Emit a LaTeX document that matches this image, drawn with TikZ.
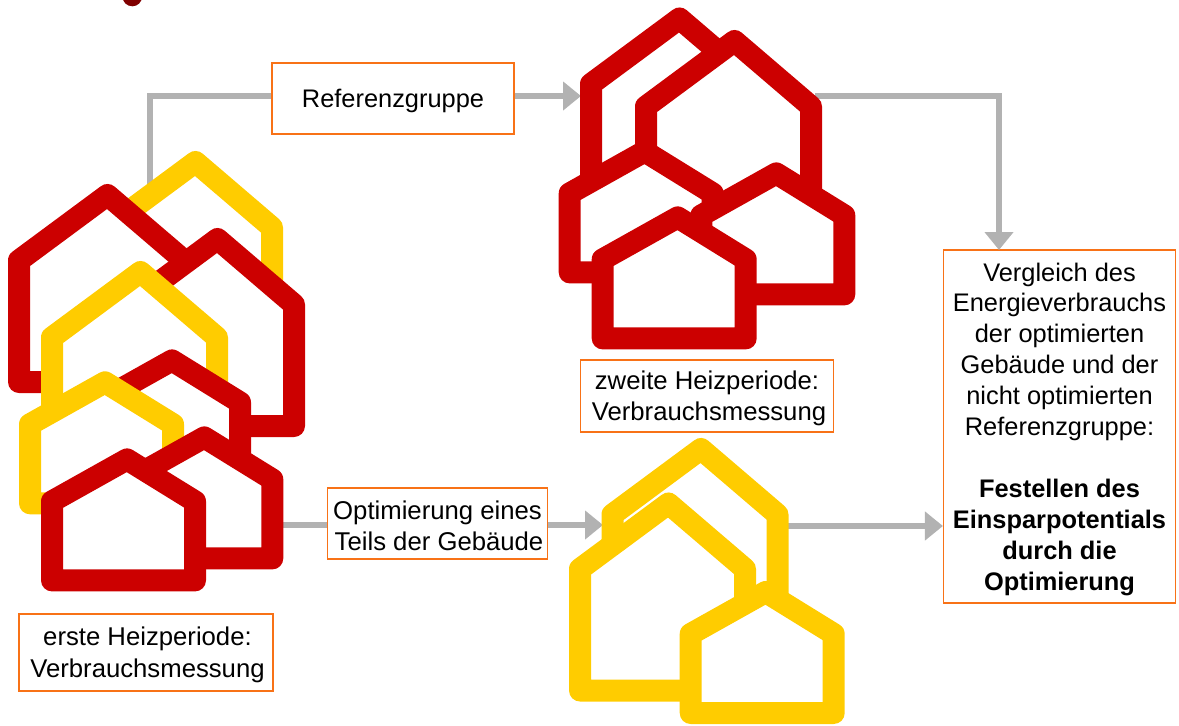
\documentclass[tikz,border=0pt]{standalone}
\usepackage{fontspec}
\setmainfont{Liberation Sans}
\usetikzlibrary{arrows.meta}
\definecolor{hred}{HTML}{CC0000}
\definecolor{hyel}{HTML}{FFCC00}
\definecolor{cgray}{HTML}{B2B2B2}
\definecolor{bord}{HTML}{F87217}
\definecolor{dotred}{HTML}{800000}
\newcommand\lift{\rule{0pt}{23.5pt}}
\tikzset{
  hbase/.style={line width=22pt,line join=round,fill=white},
  txt/.style={draw=bord,line width=1.1pt,fill=white,align=center,inner sep=0pt,font=\fontsize{25.4}{30.9}\selectfont},
  txtb/.style={txt,font=\fontsize{25.7}{31.5}\selectfont},
  conn/.style={draw=cgray,line width=6.5pt},
  head/.style={conn,-{Triangle[length=18pt,width=28pt,fill=cgray]}}
}
\newcommand\bighouse[3]{\path[hbase,draw=#3] (#1-88.5,#2+65.5) -- (#1,#2) -- (#1+76.5,#2+65.5) -- (#1+76.5,#2+187) -- (#1-88.5,#2+187) -- cycle;}
\newcommand\smallhouse[3]{\path[hbase,draw=#3] (#1-75,#2+42) -- (#1,#2) -- (#1+68,#2+42) -- (#1+68,#2+121) -- (#1-75,#2+121) -- cycle;}
\begin{document}
\begin{tikzpicture}[x=1pt,y=-1pt]
\useasboundingbox (0,0) rectangle (1179,726);
\clip (0,0) rectangle (1179,726);
\fill[dotred] (132.3,-3.5) circle (9.8);
% anchors of the connectors
\coordinate (startA) at (150,185);
\coordinate (tipA) at (581,96);
\coordinate (startB) at (815,96);
\coordinate (tipB) at (999,250);
\coordinate (startC) at (275,525);
\coordinate (tipC) at (603,525);
\coordinate (startD) at (785,526);
% text boxes
\node[txt,minimum width=242pt,minimum height=71pt] (ref) at (393,98.5) {\lift Referenzgruppe};
\node[txtb,minimum width=254pt,minimum height=77pt] (first) at (146,652.5) {\lift\hspace{3pt}erste Heizperiode:\\\hspace{3pt}Verbrauchsmessung};
\node[txtb,minimum width=253pt,minimum height=72pt] (second) at (707,396) {\lift zweite Heizperiode:\\\hspace{4pt}Verbrauchsmessung};
\node[txtb,minimum width=220pt,minimum height=71pt] (opt) at (437.5,523.5) {\lift Optimierung eines\hspace{6pt}\\\hspace{3pt}Teils der Gebäude};
\node[txt,minimum width=232pt,minimum height=353pt] (res) at (1059.5,426.5) {\lift Vergleich des\\Energieverbrauchs\\der optimierten\\Gebäude und der\\nicht optimierten\\Referenzgruppe:\\[30.9pt]\textbf{Festellen des}\\\textbf{Einsparpotentials}\\\textbf{durch die}\\\textbf{Optimierung}};
% connectors
\draw[conn] (startA) |- (ref.west |- tipA);
\draw[head] (ref.east |- tipA) -- (tipA);
\draw[head] (startB) -| (tipB);
\draw[conn] (startC) -- (opt.west |- startC);
\draw[head] (opt.east |- tipC) -- (tipC);
\draw[head] (startD) -- (res.west |- startD);
% houses, left group
\bighouse{195.5}{162}{hyel}
\bighouse{107.5}{195}{hred}
\bighouse{217.5}{239}{hred}
\bighouse{140.5}{272}{hyel}
\smallhouse{172}{360.4}{hred}
\smallhouse{105}{382.3}{hyel}
\smallhouse{204.3}{437.4}{hred}
\smallhouse{127}{459.4}{hred}
% top group
\bighouse{679.5}{18.5}{hred}
\bighouse{734.5}{41}{hred}
\smallhouse{644.7}{151.4}{hred}
\smallhouse{776.3}{173.4}{hred}
\smallhouse{677.7}{217.4}{hred}
% bottom group
\bighouse{701}{449}{hyel}
\bighouse{668.5}{503.5}{hyel}
\smallhouse{765.7}{592}{hyel}
\end{tikzpicture}
\end{document}
